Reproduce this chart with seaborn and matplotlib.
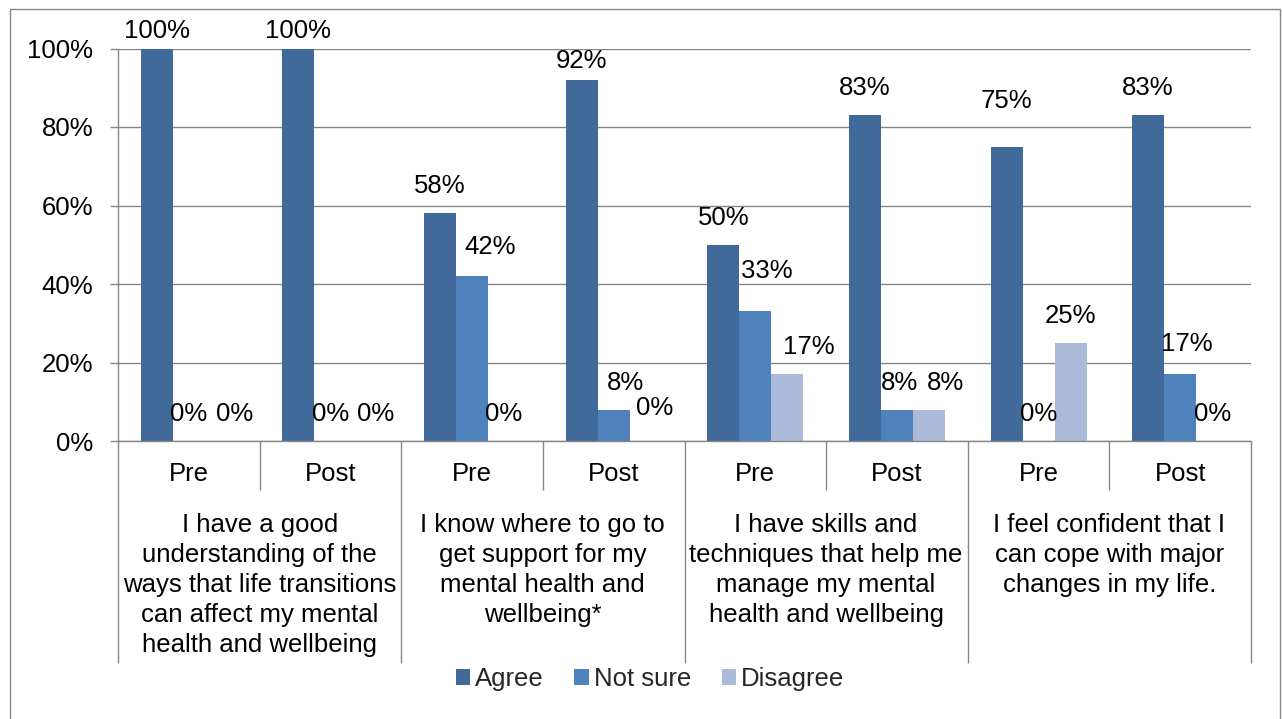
import matplotlib
matplotlib.use("Agg")
import matplotlib.pyplot as plt
from matplotlib.patches import Patch, Rectangle
import pandas as pd
import seaborn as sns

# Survey statements (each asked before and after the programme)
statements = [
    "I have a good\nunderstanding of the\nways that life transitions\ncan affect my mental\nhealth and wellbeing",
    "I know where to go to\nget support for my\nmental health and\nwellbeing*",
    "I have skills and\ntechniques that help me\nmanage my mental\nhealth and wellbeing",
    "I feel confident that I\ncan cope with major\nchanges in my life.",
]
phases = ["Pre", "Post"]
responses = ["Agree", "Not sure", "Disagree"]

# Percent of respondents, one value per statement/phase slot (Pre, Post, Pre, Post, ...)
agree = [100, 100, 58, 92, 50, 83, 75, 83]
not_sure = [0, 0, 42, 8, 33, 8, 0, 17]
disagree = [0, 0, 0, 0, 17, 8, 25, 0]

y_ticks = [0, 20, 40, 60, 80, 100]
y_tick_labels = ["0%", "20%", "40%", "60%", "80%", "100%"]

colors = ["#416A9B", "#4F81BD", "#AABAD8"]
grid_gray = "#868686"
FS = 18.5

# Long-form table for seaborn
slots = [f"{s}-{p}" for s in range(len(statements)) for p in phases]
rows = []
for resp, vals in zip(responses, [agree, not_sure, disagree]):
    for slot, v in zip(slots, vals):
        rows.append({"slot": slot, "response": resp, "pct": v})
df = pd.DataFrame(rows)

sns.set_style("white")
plt.rcParams["font.family"] = ["Liberation Sans", "DejaVu Sans"]

W, H = 1282, 719
fig = plt.figure(figsize=(W / 100, H / 100), dpi=100)
ax_left, ax_right, ax_top, ax_bottom = 118, 1251, 48.5, 441
ax = fig.add_axes([ax_left / W, 1 - ax_bottom / H,
                   (ax_right - ax_left) / W, (ax_bottom - ax_top) / H])

sns.barplot(data=df, x="slot", y="pct", hue="response", order=slots,
            hue_order=responses, palette=colors, width=0.678,
            errorbar=None, saturation=1, ax=ax, legend=False,
            edgecolor="none", linewidth=0)

ax.set_xlim(-0.5, len(slots) - 0.5)
ax.set_ylim(0, 100)
ax.set_xlabel("")
ax.set_ylabel("")
ax.set_axisbelow(True)
ax.yaxis.grid(True, color=grid_gray, linewidth=1.0)
ax.xaxis.grid(False)

ax.set_yticks(y_ticks)
ax.set_yticklabels(y_tick_labels, fontsize=FS, color="black")
ax.tick_params(axis="y", which="major", direction="out", length=5.8,
               width=1.0, color=grid_gray, pad=12, left=True)

# Category axis: long dividers between statements, short ones between Pre/Post
n_groups = len(statements)
ax.set_xticks([-0.5 + 2 * g for g in range(n_groups + 1)])
ax.set_xticks([0.5 + 2 * g for g in range(n_groups)], minor=True)
ax.tick_params(axis="x", which="major", direction="out", length=160,
               width=1.0, color=grid_gray, labelbottom=False, bottom=True)
ax.tick_params(axis="x", which="minor", direction="out", length=35.3,
               width=1.0, color=grid_gray, labelbottom=False, bottom=True)

for side in ["top", "right"]:
    ax.spines[side].set_visible(False)
for side in ["left", "bottom"]:
    ax.spines[side].set_color(grid_gray)
    ax.spines[side].set_linewidth(1.0)

ax_h = ax_bottom - ax_top
xform = ax.get_xaxis_transform()
for i, slot in enumerate(slots):
    ax.text(i, -(474 - ax_bottom) / ax_h, phases[i % 2], transform=xform,
            ha="center", va="center", fontsize=FS, color="black")
for g, stmt in enumerate(statements):
    ax.text(2 * g + 0.5, -(513 - ax_bottom) / ax_h, stmt, transform=xform,
            ha="center", va="top", fontsize=FS, color="black",
            linespacing=1.32, multialignment="center")

# Value labels above bars; offsets (dx, gap) in pixels keep crowded labels apart
label_nudge = {
    (0, 0): (0, 10), (0, 1): (0, 10), (0, 3): (0, 12), (0, 6): (0, 39),
    (1, 2): (18, 22), (1, 3): (12, 20), (1, 4): (12, 33), (1, 5): (3, 20),
    (1, 7): (7, 23),
    (2, 0): (14, 20), (2, 1): (13, 20), (2, 3): (9, 26), (2, 4): (21, 20),
    (2, 5): (17, 20),
}
for j, (container, vals) in enumerate(zip(ax.containers, [agree, not_sure, disagree])):
    for i, (bar, v) in enumerate(zip(container, vals)):
        dx, gap = label_nudge.get((j, i), (0, 20))
        ax.annotate(f"{v}%", xy=(bar.get_x() + bar.get_width() / 2, bar.get_height()),
                    xytext=(dx, gap), textcoords="offset pixels",
                    ha="center", va="baseline", fontsize=FS, color="black",
                    annotation_clip=False)

handles = [Patch(facecolor=c, edgecolor="none") for c in colors]
fig.legend(handles, responses, loc="center", bbox_to_anchor=(650 / W, 1 - 679 / H),
           ncol=3, frameon=False, fontsize=FS, handlelength=0.55,
           handleheight=0.55, handletextpad=0.2, columnspacing=1.2,
           borderpad=0, borderaxespad=0)

# Chart frame
fig.add_artist(Rectangle((9.5 / W, -0.1), (1280 - 9.5) / W, 1.1 - 9.5 / H,
                         transform=fig.transFigure, fill=False,
                         edgecolor=grid_gray, linewidth=1.0))

fig.savefig("out.png", dpi=100)
